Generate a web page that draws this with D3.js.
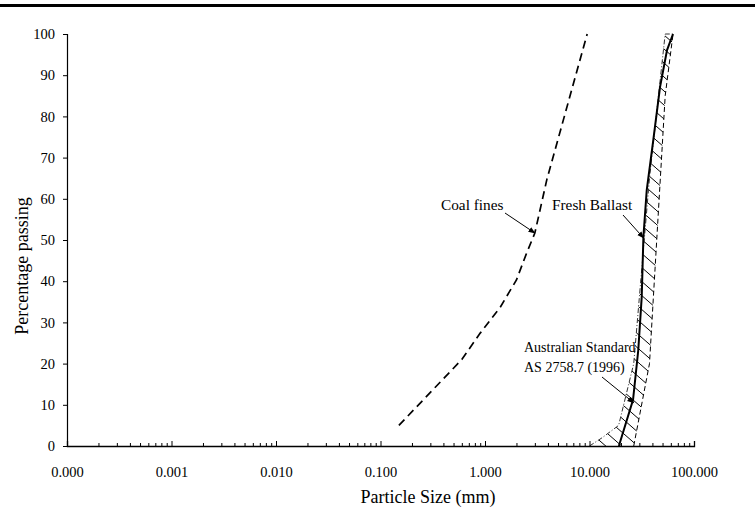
<!DOCTYPE html>
<html>
<head>
<meta charset="utf-8">
<script src="https://cdn.jsdelivr.net/npm/d3@7"></script>
<style>
  html, body { margin: 0; padding: 0; background: #fff; }
  svg { display: block; }
  text { font-family: "Liberation Serif", "Times New Roman", serif; fill: #000; }
</style>
</head>
<body>
<svg id="chart" width="755" height="531"></svg>
<script>
// ---- data ----
const xTickValues = [0.0001, 0.001, 0.01, 0.1, 1, 10, 100];
const yTickValues = [0, 10, 20, 30, 40, 50, 60, 70, 80, 90, 100];

// Coal fines grading [size mm, % passing]
const coalSize    = [0.15, 0.3, 0.6, 0.9, 1.4, 2.0, 2.5, 3.0, 3.9, 9.5];
const coalPassing = [5, 13, 21, 27.4, 33.7, 40.3, 46.8, 51.7, 64.6, 100];

// Fresh ballast grading
const ballastSize    = [19.1, 26.1, 29.3, 31.6, 32.8, 35.3, 40.8, 47.3, 55.2, 63];
const ballastPassing = [0, 11.2, 23.3, 36.2, 50.8, 62.1, 74.3, 87.1, 96.1, 100];

// Australian Standard AS 2758.7 (1996) envelope
const stdUpperSize    = [10, 13.2, 19, 26.5, 37.5, 53, 63];
const stdUpperPassing = [0, 2, 5, 20, 65, 100, 100];
const stdLowerSize    = [26.5, 37.5, 53, 63];
const stdLowerPassing = [0, 20, 85, 100];

// ---- chart ----
const svg = d3.select("#chart");
const x = d3.scaleLog().domain([0.0001, 100]).range([67, 694]);
const y = d3.scaleLinear().domain([0, 100]).range([446, 34]);

// top border rule
svg.append("rect").attr("x", 0).attr("y", 4).attr("width", 755).attr("height", 3).attr("fill", "#000");

const defs = svg.append("defs");
const pat = defs.append("pattern").attr("id", "hatch")
  .attr("patternUnits", "userSpaceOnUse").attr("width", 16).attr("height", 14);
pat.append("path").attr("d", "M-1,-0.875L17,14.875").attr("stroke", "#000").attr("stroke-width", 1).attr("fill", "none");

defs.append("marker").attr("id", "arrow").attr("viewBox", "0 0 10 10")
  .attr("refX", 9).attr("refY", 5).attr("markerWidth", 7).attr("markerHeight", 7)
  .attr("markerUnits", "userSpaceOnUse").attr("orient", "auto")
  .append("path").attr("d", "M0,1L10,5L0,9Z").attr("fill", "#000");

const zip = (a, b) => a.map((v, i) => [v, b[i]]);
const line = d3.line().x(d => x(d[0])).y(d => y(d[1]));

// hatched envelope
const upper = zip(stdUpperSize, stdUpperPassing);
const lower = zip(stdLowerSize, stdLowerPassing);
const poly = upper.concat(lower.slice().reverse());
svg.append("path").attr("d", line(poly) + "Z").attr("fill", "url(#hatch)").attr("stroke", "none");

svg.append("path").attr("d", line(upper)).attr("fill", "none")
  .attr("stroke", "#333").attr("stroke-width", 1).attr("stroke-dasharray", "5,2,1,2");
svg.append("path").attr("d", line(lower)).attr("fill", "none")
  .attr("stroke", "#000").attr("stroke-width", 1).attr("stroke-dasharray", "5,3");

// axes
const xMinor = [];
for (let e = -4; e < 2; e++) for (let k = 2; k <= 9; k++) xMinor.push(k * Math.pow(10, e));

const gxMinor = svg.append("g").attr("transform", "translate(0,446)")
  .call(d3.axisBottom(x).tickValues(xMinor).tickSize(-3).tickFormat(""));
const gx = svg.append("g").attr("transform", "translate(0,446)")
  .call(d3.axisBottom(x).tickValues(xTickValues).tickSize(-5).tickPadding(21).tickFormat(d3.format(".3f")));
gx.selectAll("text").style("font-size", "14.5px").style("font-family", "'Liberation Serif', serif");
gx.select(".domain").attr("stroke-width", 1.3);
[gx, gxMinor].forEach(g => g.selectAll(".tick line").attr("stroke", "#000"));
gxMinor.select(".domain").remove();

const gy = svg.append("g").attr("transform", "translate(67,0)")
  .call(d3.axisLeft(y).tickValues(yTickValues).tickSize(4).tickPadding(8).tickFormat(d3.format("d")));
gy.selectAll("text").style("font-size", "14.5px").style("font-family", "'Liberation Serif', serif");
gy.select(".domain").attr("stroke-width", 1.2);

// series
svg.append("path").attr("d", line(zip(coalSize, coalPassing))).attr("fill", "none")
  .attr("stroke", "#000").attr("stroke-width", 1.7).attr("stroke-dasharray", "8,5");
svg.append("path").attr("d", line(zip(ballastSize, ballastPassing))).attr("fill", "none")
  .attr("stroke", "#000").attr("stroke-width", 2);

// axis titles
svg.append("text").attr("x", 428).attr("y", 503).attr("text-anchor", "middle")
  .style("font-size", "18px").text("Particle Size (mm)");
svg.append("text").attr("transform", "translate(28,266) rotate(-90)").attr("text-anchor", "middle")
  .style("font-size", "18px").text("Percentage passing");

// annotations
function annotate(lines, tx, ty, size, x1, y1, sx, sy) {
  lines.forEach((t, i) => svg.append("text").attr("x", tx).attr("y", ty + i * 20)
    .style("font-size", size + "px").text(t));
  svg.append("line").attr("x1", x1).attr("y1", y1).attr("x2", x(sx)).attr("y2", y(sy))
    .attr("stroke", "#000").attr("stroke-width", 1).attr("marker-end", "url(#arrow)");
}
annotate(["Coal fines"], 441, 210, 15.3, 505, 213, 3.0, 51.7);
annotate(["Fresh Ballast"], 552, 210, 15.3, 623, 215, 32.9, 50.5);
annotate(["Australian Standard", "AS 2758.7 (1996)"], 524, 352, 14, 602, 377, 26.5, 10.5);
</script>
</body>
</html>
